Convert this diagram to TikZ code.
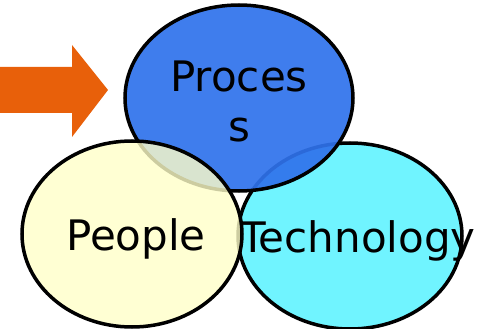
\documentclass[tikz,border=0pt]{standalone}
\usepackage{fontspec}
\setmainfont{DejaVu Sans}
\usetikzlibrary{shapes.geometric}

\definecolor{flecha}{HTML}{E8600A}
\definecolor{azul}{HTML}{2F72EC}
\definecolor{cian}{HTML}{70F4FF}
\definecolor{crema}{HTML}{FFFFC8}

\tikzset{
  conjunto/.style={ellipse, draw=black, line width=3.5pt, inner sep=0pt},
  rotulo/.style={font=\fontsize{42}{51}\selectfont, text=black, anchor=base, align=center, inner sep=0pt}
}

\begin{document}
\begin{tikzpicture}[x=1pt, y=-1pt]
    \useasboundingbox (0, 0) rectangle (483, 329);

    % Conjuntos
    \node[conjunto, fill=cian, minimum width=224pt, minimum height=186pt] (tecnologia) at (350, 236) {};
    \node[conjunto, fill=azul, fill opacity=0.92, minimum width=228pt, minimum height=186pt] (proceso) at (239, 98) {};
    \node[conjunto, fill=crema, fill opacity=0.8, minimum width=220pt, minimum height=186pt] (personas) at (132, 234) {};

    % Flecha
    \fill[flecha] (0, 67) -- (72, 67) -- (72, 45) -- (108, 90) -- (72, 137) -- (72, 113) -- (0, 113) -- cycle;

    % Textos
    \node[rotulo] (tproceso) at (239, 142) {Proces\\s};
    \node[rotulo] (tpersonas) at (136, 251) {People};
    \node[rotulo] (ttecnologia) at (358, 252) {Technology};
\end{tikzpicture}
\end{document}
